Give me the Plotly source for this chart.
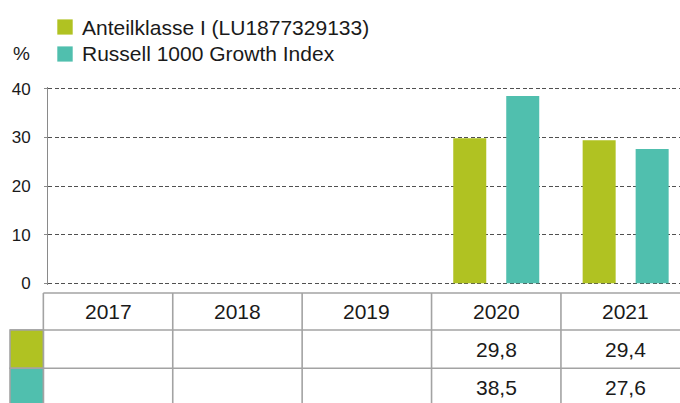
import plotly.graph_objects as go

# ---- data ----
years = ["2017", "2018", "2019", "2020", "2021"]
fund_name = "Anteilklasse I (LU1877329133)"
index_name = "Russell 1000 Growth Index"
fund_values = [None, None, None, 29.8, 29.4]
index_values = [None, None, None, 38.5, 27.6]
y_ticks = [0, 10, 20, 30, 40]
unit_label = "%"

# ---- style ----
GREEN = "#b0c222"
TEAL = "#50bfae"
TEXT = "#1a1a1a"
GRID = "#505050"
BORDER = "#a3a3a3"
FONT = "Liberation Sans, Arial, sans-serif"

W, H = 680, 403
M_L, M_R, M_T, M_B = 48, 0, 87, 118
PLOT_H = H - M_T - M_B
X_RANGE = [-0.464, 4.42]
Y_RANGE = [-0.35, 40.35]


def xp(c):
    """category index -> paper x"""
    return (c - X_RANGE[0]) / (X_RANGE[1] - X_RANGE[0])


def px_x(p):
    """pixel x -> paper x"""
    return (p - M_L) / (W - M_L - M_R)


def px_y(p):
    """pixel y -> paper y"""
    return (H - M_B - p) / PLOT_H


fig = go.Figure()
fig.add_trace(go.Bar(x=years, y=fund_values, name=fund_name, marker_color=GREEN,
                     marker_line_width=0))
fig.add_trace(go.Bar(x=years, y=index_values, name=index_name, marker_color=TEAL,
                     marker_line_width=0))

shapes = []
annotations = []

# ---- table ----
row_top, row1, row2, row_bot = 293.0, 330.0, 368.3, 412.0
n = len(years)
line = dict(color=BORDER, width=1.6)
shapes.append(dict(type="line", xref="paper", yref="paper",
                   x0=xp(-0.5), x1=1.05, y0=px_y(row_top), y1=px_y(row_top), line=line))
for yy in (row1, row2):
    shapes.append(dict(type="line", xref="paper", yref="paper",
                       x0=px_x(10), x1=1.05, y0=px_y(yy), y1=px_y(yy), line=line))
for i in range(n):
    shapes.append(dict(type="line", xref="paper", yref="paper",
                       x0=xp(i - 0.5), x1=xp(i - 0.5), y0=px_y(row_top), y1=px_y(row_bot),
                       line=line))
for color, (ya, yb) in ((GREEN, (row1, row2)), (TEAL, (row2, row_bot))):
    shapes.append(dict(type="rect", xref="paper", yref="paper",
                       x0=px_x(10), x1=xp(-0.5), y0=px_y(ya), y1=px_y(yb),
                       fillcolor=color, line=line))


def fmt(v):
    return "" if v is None else f"{v:.1f}".replace(".", ",")


TABLE_FONT = dict(size=21, color=TEXT)
for i, yr in enumerate(years):
    annotations.append(dict(x=xp(i), y=px_y((row_top + row1) / 2), xref="paper", yref="paper",
                            text=yr, showarrow=False, font=TABLE_FONT,
                            xanchor="center", yanchor="middle"))
    for vals, (ya, yb) in ((fund_values, (row1, row2)), (index_values, (row2, 406))):
        t = fmt(vals[i])
        if t:
            annotations.append(dict(x=xp(i), y=px_y((ya + yb) / 2), xref="paper", yref="paper",
                                    text=t, showarrow=False, font=TABLE_FONT,
                                    xanchor="center", yanchor="middle"))

# ---- legend (manual) ----
for name, color, cy in ((fund_name, GREEN, 27), (index_name, TEAL, 54)):
    shapes.append(dict(type="rect", xref="paper", yref="paper",
                       x0=px_x(57.3), x1=px_x(72.7), y0=px_y(cy - 7.6), y1=px_y(cy + 7.6),
                       fillcolor=color, line=dict(width=0)))
    annotations.append(dict(x=px_x(80), y=px_y(cy), xref="paper", yref="paper",
                            text=name, showarrow=False, font=dict(size=21, color=TEXT),
                            xanchor="left", yanchor="middle"))

annotations.append(dict(x=px_x(11), y=px_y(54), xref="paper", yref="paper",
                        text=unit_label, showarrow=False, font=dict(size=19, color=TEXT),
                        xanchor="left", yanchor="middle"))

fig.update_layout(
    width=W, height=H,
    margin=dict(l=M_L, r=M_R, t=M_T, b=M_B, pad=0),
    paper_bgcolor="white", plot_bgcolor="white",
    font=dict(family=FONT, color=TEXT),
    barmode="group", bargap=0.181, bargroupgap=0.377,
    showlegend=False,
    shapes=shapes, annotations=annotations,
    xaxis=dict(type="category", categoryorder="array", categoryarray=years,
               range=X_RANGE, showticklabels=False, showgrid=False, zeroline=False,
               showline=False, ticks="", fixedrange=True, automargin=False),
    yaxis=dict(range=Y_RANGE, tickvals=y_ticks, showgrid=True, gridcolor=GRID,
               griddash="4px,2.5px", gridwidth=1, zeroline=False, showline=True,
               linecolor="#8a8a8a", linewidth=1, ticks="outside", ticklen=3,
               tickcolor="#8a8a8a", tickfont=dict(size=17, color=TEXT),
               ticklabelstandoff=10, fixedrange=True, automargin=False),
)

fig.write_html(
    "out.html",
    config={"displayModeBar": False},
    post_script="document.body.style.margin='0';document.body.style.padding='0';"
                "document.body.style.overflow='hidden';",
)
